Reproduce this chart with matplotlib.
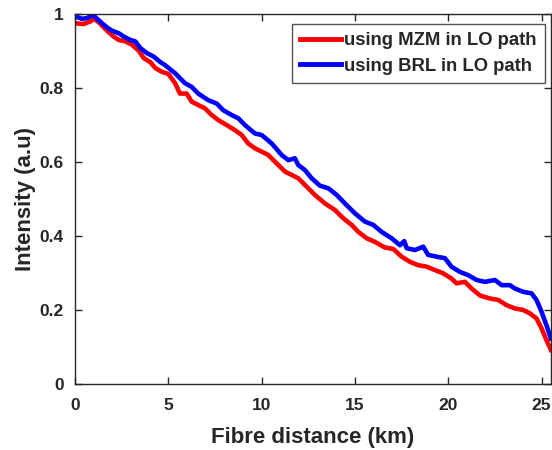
import matplotlib
matplotlib.use('Agg')
import matplotlib.pyplot as plt

# distances (km) and intensities
mzm_x = [0.0, 0.46, 0.82, 1.0, 1.27, 1.54, 1.8, 2.07, 2.34, 2.7, 3.05, 3.41, 3.68, 4.03,
         4.3, 4.64, 5.0, 5.36, 5.62, 5.98, 6.25, 6.6, 6.96, 7.32, 7.68, 8.12, 8.57, 8.93,
         9.28, 9.64, 10.0, 10.35, 10.71, 11.25, 11.61, 11.96, 12.32, 12.85, 13.39, 13.93,
         14.37, 14.82, 15.18, 15.62, 16.07, 16.6, 17.05, 17.5, 17.95, 18.39, 18.84, 19.28,
         19.73, 20.17, 20.44, 20.89, 21.25, 21.7, 22.23, 22.68, 23.12, 23.57, 24.01, 24.37,
         24.73, 25.0, 25.26, 25.5]
mzm_y = [0.976, 0.974, 0.981, 0.988, 0.979, 0.965, 0.952, 0.94, 0.931, 0.927, 0.918, 0.902,
         0.882, 0.871, 0.855, 0.845, 0.839, 0.814, 0.786, 0.786, 0.764, 0.755, 0.746, 0.728,
         0.714, 0.701, 0.687, 0.674, 0.651, 0.638, 0.629, 0.62, 0.602, 0.575, 0.566, 0.557,
         0.539, 0.512, 0.489, 0.471, 0.449, 0.431, 0.412, 0.395, 0.385, 0.37, 0.366, 0.345,
         0.331, 0.322, 0.318, 0.309, 0.3, 0.286, 0.273, 0.277, 0.259, 0.24, 0.232, 0.228,
         0.214, 0.205, 0.201, 0.192, 0.178, 0.151, 0.12, 0.093]

brl_x = [0.0, 0.37, 0.64, 0.95, 1.18, 1.45, 1.71, 1.98, 2.34, 2.61, 2.96, 3.23, 3.5, 3.86,
         4.21, 4.57, 4.82, 5.36, 5.89, 6.25, 6.6, 7.14, 7.59, 7.94, 8.39, 8.75, 9.1, 9.64,
         10.0, 10.54, 11.07, 11.43, 11.78, 11.96, 12.32, 12.68, 13.12, 13.57, 14.02, 14.46,
         15.0, 15.53, 15.98, 16.43, 16.96, 17.41, 17.64, 17.77, 18.21, 18.66, 18.92, 19.37,
         19.82, 20.17, 20.62, 21.07, 21.52, 21.96, 22.5, 22.86, 23.3, 23.57, 24.01, 24.46,
         24.73, 25.0, 25.26, 25.5]
brl_y = [0.995, 0.988, 0.99, 0.999, 0.988, 0.976, 0.965, 0.956, 0.949, 0.94, 0.931, 0.927,
         0.909, 0.895, 0.886, 0.871, 0.863, 0.841, 0.814, 0.804, 0.786, 0.768, 0.759, 0.741,
         0.728, 0.719, 0.701, 0.678, 0.674, 0.651, 0.62, 0.606, 0.611, 0.593, 0.579, 0.557,
         0.537, 0.53, 0.512, 0.489, 0.462, 0.44, 0.431, 0.412, 0.395, 0.376, 0.387, 0.368,
         0.363, 0.372, 0.35, 0.345, 0.341, 0.318, 0.304, 0.295, 0.282, 0.277, 0.282, 0.268,
         0.268, 0.259, 0.25, 0.246, 0.228, 0.196, 0.16, 0.124]

labels = ['using MZM in LO path', 'using BRL in LO path']

plt.rcParams['font.family'] = ['Liberation Sans', 'DejaVu Sans']
plt.rcParams['font.weight'] = 'bold'
text_col = '#262626'

fig = plt.figure(figsize=(5.52, 4.5), dpi=100)
ax = fig.add_axes([0.136, 0.146, 0.862, 0.822])

ax.plot(mzm_x, mzm_y, color='#ff0000', lw=3.3, label=labels[0])
ax.plot(brl_x, brl_y, color='#0000ff', lw=3.3, label=labels[1])

ax.set_xlim(0, 25.5)
ax.set_ylim(0, 1)
ax.set_xticks([0, 5, 10, 15, 20, 25])
ax.set_yticks([0, 0.2, 0.4, 0.6, 0.8, 1])
ax.set_yticklabels(['0', '0.2', '0.4', '0.6', '0.8', '1'])
ax.tick_params(direction='in', top=True, right=True, length=5, width=1,
               labelsize=12.5, colors=text_col)
ax.tick_params(axis='x', pad=10)
ax.tick_params(axis='y', pad=8)
for sp in ax.spines.values():
    sp.set_color(text_col)
    sp.set_linewidth(1)

ax.set_xlabel('Fibre distance (km)', fontsize=16, fontweight='bold', color=text_col, labelpad=10)
ax.set_ylabel('Intensity (a.u)', fontsize=16, fontweight='bold', color=text_col, labelpad=3)

leg = ax.legend(loc='upper right', bbox_to_anchor=(0.988, 0.974), fontsize=13.3,
                frameon=True, fancybox=False, handlelength=2.2, handletextpad=0.2,
                borderpad=0.45, labelspacing=0.45, borderaxespad=0)
leg.get_frame().set_edgecolor('#262626')
leg.get_frame().set_linewidth(1)
for t in leg.get_texts():
    t.set_color(text_col)
for h in leg.get_lines():
    h.set_linewidth(3.5)

fig.savefig('out.png', dpi=100)
